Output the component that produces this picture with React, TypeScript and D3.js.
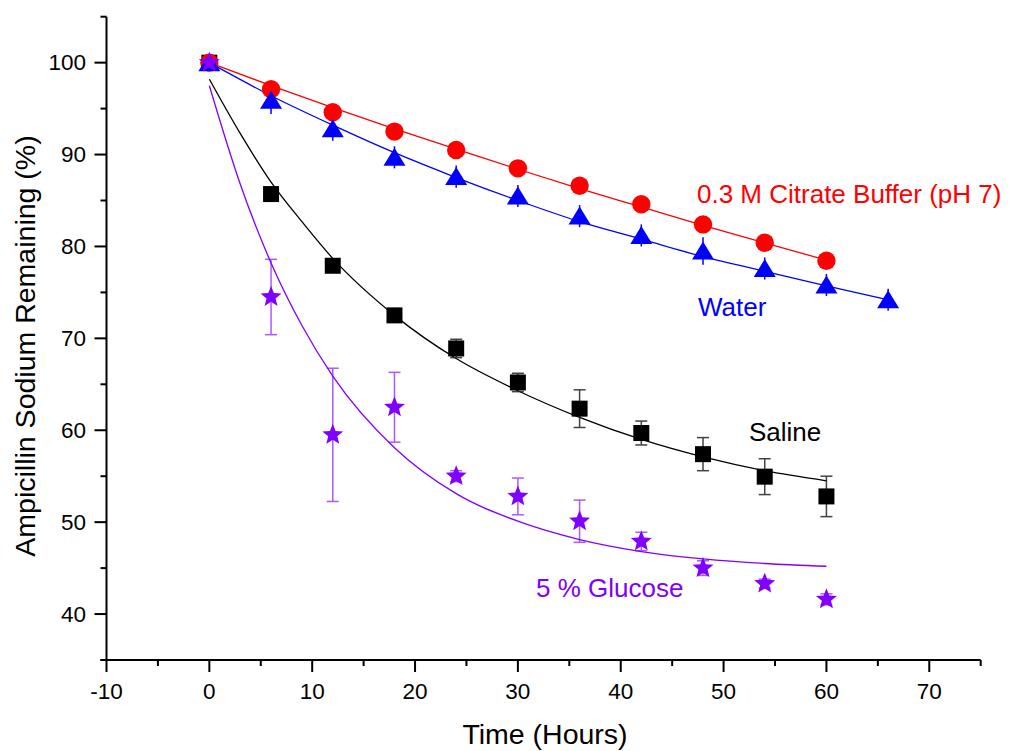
import React from "react";
import * as d3 from "d3";

// Sampling times (hours)
const timesLong = [0, 6, 12, 18, 24, 30, 36, 42, 48, 54, 60, 66];
const timesStd = [0, 6, 12, 18, 24, 30, 36, 42, 48, 54, 60];

// Measured % remaining and error (±)
const citrateValues = [100, 97.1, 94.6, 92.5, 90.5, 88.5, 86.6, 84.6, 82.4, 80.4, 78.45];
const citrateErrors = [0, 0.3, 0.3, 0.3, 0.3, 0.3, 0.3, 0.3, 0.3, 0.3, 0.3];
const waterValues = [100, 95.9, 92.8, 89.7, 87.6, 85.5, 83.3, 81.2, 79.5, 77.6, 75.8, 74.2];
const waterErrors = [0, 1.5, 1.3, 1.2, 1.2, 1.2, 1.2, 1.2, 1.5, 1.2, 1.2, 1.2];
const salineValues = [100, 85.7, 77.9, 72.5, 68.9, 65.2, 62.35, 59.7, 57.4, 54.95, 52.8];
const salineErrors = [0, 0.3, 0.4, 0.4, 1.0, 1.0, 2.05, 1.3, 1.8, 1.95, 2.2];
const glucoseValues = [100, 74.5, 59.5, 62.5, 55.0, 52.8, 50.1, 47.9, 45.0, 43.3, 41.6];
const glucoseErrors = [0, 4.1, 7.25, 3.8, 0.6, 2.0, 2.3, 1.0, 0.8, 0.5, 0.6];

// Fitted decay curves (% remaining at the listed times)
const citrateFitTimes = [0, 6, 12, 18, 24, 30, 36, 42, 48, 54, 60];
const citrateFitValues = [100, 97.5, 95.1, 92.8, 90.6, 88.4, 86.3, 84.3, 82.3, 80.4, 78.5];
const waterFitTimes = [0, 6, 12, 18, 24, 30, 36, 42, 48, 54, 60, 66];
const waterFitValues = [100, 96.4, 93.2, 90.2, 87.5, 85.0, 82.7, 80.8, 78.9, 77.3, 75.7, 74.2];
const salineFitTimes = [0, 3, 6, 9, 12, 18, 24, 30, 36, 42, 48, 54, 60];
const salineFitValues = [98.2, 92.3, 87.0, 82.7, 78.7, 72.5, 67.8, 64.3, 61.4, 59.0, 57.1, 55.6, 54.5];
const glucoseFitTimes = [0, 3, 6, 9, 12, 18, 24, 30, 36, 42, 48, 54, 60];
const glucoseFitValues = [97.5, 86.8, 78.2, 71.4, 65.9, 58.1, 53.1, 50.1, 48.1, 46.8, 46.0, 45.5, 45.2];

// Axis ticks
const xMajorTicks = [-10, 0, 10, 20, 30, 40, 50, 60, 70];
const xMinorTicks = [-5, 5, 15, 25, 35, 45, 55, 65, 75];
const yMajorTicks = [40, 50, 60, 70, 80, 90, 100];
const yMinorTicks = [35, 45, 55, 65, 75, 85, 95, 105];

const FONT = "'Liberation Sans', Arial, Helvetica, sans-serif";
const RED = "#ff0000";
const BLUE = "#0000ff";
const BLACK = "#000000";
const VIOLET = "#8000ff";

const x = d3.scaleLinear().domain([-10, 75]).range([106.5, 980.7]);
const y = d3.scaleLinear().domain([35, 105]).range([660, 16.7]);

type Pt = { t: number; v: number; e: number };

function zip(ts: number[], vs: number[], es: number[]): Pt[] {
  return vs.map((v, i) => ({ t: ts[i], v, e: es[i] }));
}

function fitPath(ts: number[], vs: number[]) {
  const line = d3
    .line<number>()
    .x((_, i) => x(ts[i]))
    .y((v) => y(v))
    .curve(d3.curveMonotoneX);
  return line(vs) || "";
}

function starPath(cx: number, cy: number, R: number, r: number) {
  const pts = d3.range(10).map((i) => {
    const a = -Math.PI / 2 + (i * Math.PI) / 5;
    const rad = i % 2 === 0 ? R : r;
    return [cx + rad * Math.cos(a), cy + rad * Math.sin(a)];
  });
  return "M" + pts.map((p) => p.join(",")).join("L") + "Z";
}

function ErrorBars({ pts, color, cap, opacity }: { pts: Pt[]; color: string; cap: number; opacity: number }) {
  return (
    <g stroke={color} strokeWidth={1.5} opacity={opacity} fill="none">
      {pts
        .filter((p) => p.e > 0)
        .map((p, i) => {
          const cx = x(p.t);
          const y1 = y(p.v + p.e);
          const y2 = y(p.v - p.e);
          return (
            <g key={i}>
              <line x1={cx} x2={cx} y1={y1} y2={y2} />
              {cap > 0 && <line x1={cx - cap / 2} x2={cx + cap / 2} y1={y1} y2={y1} />}
              {cap > 0 && <line x1={cx - cap / 2} x2={cx + cap / 2} y1={y2} y2={y2} />}
            </g>
          );
        })}
    </g>
  );
}

export default function App() {
  const citrate = zip(timesStd, citrateValues, citrateErrors);
  const water = zip(timesLong, waterValues, waterErrors);
  const saline = zip(timesStd, salineValues, salineErrors);
  const glucose = zip(timesStd, glucoseValues, glucoseErrors);

  const axisY = y(35);
  const axisX = x(-10);

  return (
    <svg
      width={1013}
      height={751}
      style={{ position: "absolute", left: 0, top: 0, background: "#fff" }}
      fontFamily={FONT}
    >
      <rect width={1013} height={751} fill="#fff" />

      {/* axes */}
      <g stroke="#000" strokeWidth={2} fill="none">
        <line x1={axisX} x2={axisX} y1={y(105)} y2={axisY} />
        <line x1={axisX - 6} x2={x(75)} y1={axisY} y2={axisY} />
        {yMajorTicks.map((t) => (
          <line key={"ym" + t} x1={axisX - 12} x2={axisX} y1={y(t)} y2={y(t)} />
        ))}
        {yMinorTicks.map((t) => (
          <line key={"yn" + t} x1={axisX - 6} x2={axisX} y1={y(t)} y2={y(t)} />
        ))}
        {xMajorTicks.map((t) => (
          <line key={"xm" + t} x1={x(t)} x2={x(t)} y1={axisY} y2={axisY + 12} />
        ))}
        {xMinorTicks.map((t) => (
          <line key={"xn" + t} x1={x(t)} x2={x(t)} y1={axisY} y2={axisY + 6} />
        ))}
      </g>
      <g fontSize={22.5} fill="#000">
        {yMajorTicks.map((t) => (
          <text key={"yl" + t} x={86} y={y(t)} textAnchor="end" dominantBaseline="central">
            {t}
          </text>
        ))}
        {xMajorTicks.map((t) => (
          <text key={"xl" + t} x={x(t)} y={699} textAnchor="middle">
            {t}
          </text>
        ))}
      </g>
      <text x={545} y={744} fontSize={28.5} textAnchor="middle" fill="#000">
        Time (Hours)
      </text>
      <text
        transform={`translate(35,${346}) rotate(-90)`}
        fontSize={28.5}
        textAnchor="middle"
        fill="#000"
      >
        Ampicillin Sodium Remaining (%)
      </text>

      {/* fitted curves */}
      <g fill="none" strokeWidth={1.3}>
        <path d={fitPath(salineFitTimes, salineFitValues)} stroke={BLACK} />
        <path d={fitPath(glucoseFitTimes, glucoseFitValues)} stroke={VIOLET} />
        <path d={fitPath(waterFitTimes, waterFitValues)} stroke={BLUE} />
        <path d={fitPath(citrateFitTimes, citrateFitValues)} stroke={RED} />
      </g>

      {/* error bars */}
      <ErrorBars pts={saline} color="#222" cap={12} opacity={0.85} />
      <ErrorBars pts={water} color={BLUE} cap={0} opacity={1} />
      <ErrorBars pts={citrate} color={RED} cap={0} opacity={1} />
      <ErrorBars pts={glucose} color={VIOLET} cap={12} opacity={0.65} />

      {/* markers */}
      <g fill={BLACK}>
        {saline.map((p, i) => (
          <rect key={i} x={x(p.t) - 8} y={y(p.v) - 8} width={16} height={16} />
        ))}
      </g>
      <g fill={RED}>
        {citrate.map((p, i) => (
          <circle key={i} cx={x(p.t)} cy={y(p.v)} r={9.2} />
        ))}
      </g>
      <g fill={BLUE}>
        {water.map((p, i) => {
          const cx = x(p.t);
          const cy = y(p.v);
          return (
            <path
              key={i}
              d={`M${cx},${cy - 9.5}L${cx + 11},${cy + 8.5}L${cx - 11},${cy + 8.5}Z`}
            />
          );
        })}
      </g>
      <g fill={VIOLET}>
        {glucose.map((p, i) => (
          <path key={i} d={starPath(x(p.t), y(p.v), 11, 4.8)} />
        ))}
      </g>

      {/* series labels */}
      <g fontSize={26}>
        <text x={697} y={203} fill={RED}>
          0.3 M Citrate Buffer (pH 7)
        </text>
        <text x={698} y={316} fill={BLUE}>
          Water
        </text>
        <text x={749} y={441} fill={BLACK}>
          Saline
        </text>
        <text x={536} y={597} fill={VIOLET}>
          5 % Glucose
        </text>
      </g>
    </svg>
  );
}
